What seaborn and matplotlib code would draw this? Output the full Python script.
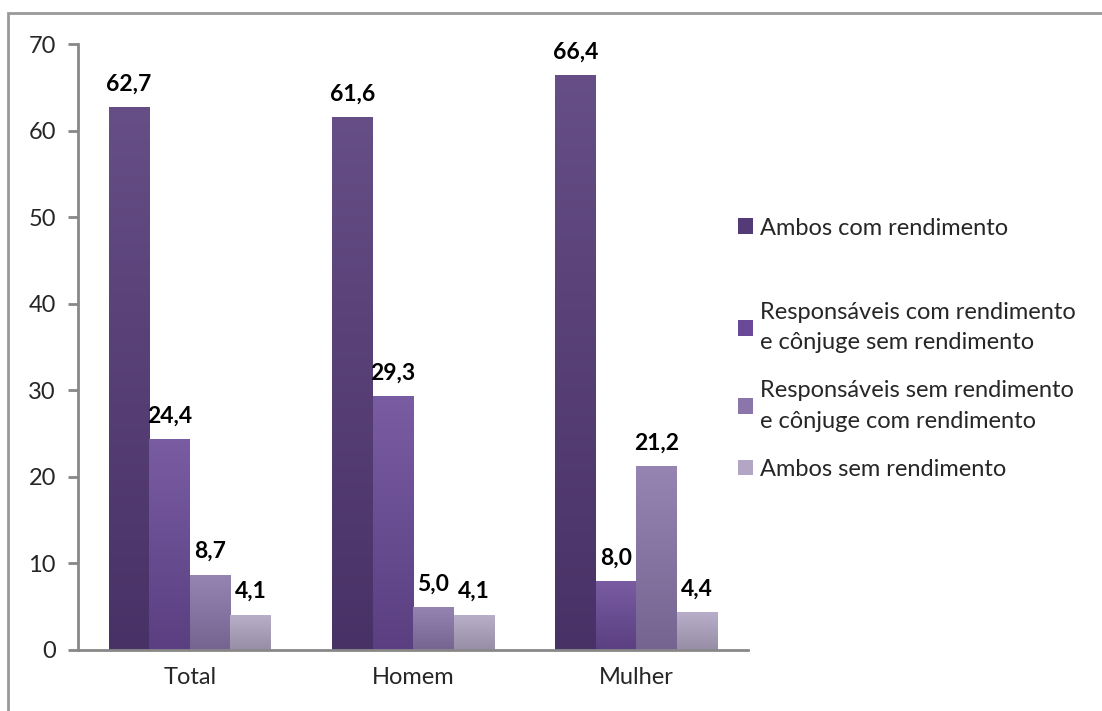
import numpy as np
import pandas as pd
import matplotlib.pyplot as plt
import matplotlib.colors as mcolors
from matplotlib.patches import Rectangle
import seaborn as sns

grupos = ["Total", "Homem", "Mulher"]
series = [
    "Ambos com rendimento",
    "Responsáveis com rendimento\ne cônjuge sem rendimento",
    "Responsáveis sem rendimento\ne cônjuge com rendimento",
    "Ambos sem rendimento",
]
ambos_com = [62.7, 61.6, 66.4]
resp_com = [24.4, 29.3, 8.0]
resp_sem = [8.7, 5.0, 21.2]
ambos_sem = [4.1, 4.1, 4.4]

cores = ["#553a78", "#6a4a98", "#8a76aa", "#b2a6c4"]

df = pd.DataFrame({
    "grupo": grupos * 4,
    "serie": [s for s in series for _ in grupos],
    "valor": ambos_com + resp_com + resp_sem + ambos_sem,
})

sns.set_style("white")
plt.rcParams["font.family"] = ["Lato", "DejaVu Sans"]

fig = plt.figure(figsize=(11.02, 7.11), dpi=100)
ax = fig.add_axes([0.0708, 0.0858, 0.6080, 0.8523])

sns.barplot(data=df, x="grupo", y="valor", hue="serie", hue_order=series,
            order=grupos, palette=cores, width=0.725, saturation=1,
            edgecolor="none", linewidth=0, ax=ax)

# leve degradê vertical em cada barra (mais claro em cima)
for cont, cor in zip(ax.containers, cores):
    base = np.array(mcolors.to_rgb(cor))
    topo = base + (1 - base) * 0.10
    fundo = base * 0.85
    grad = np.linspace(0, 1, 64)[:, None, None]
    img = topo * (1 - grad) + fundo * grad
    for bar in cont:
        x0, y0 = bar.get_x(), bar.get_y()
        w, h = bar.get_width(), bar.get_height()
        im = ax.imshow(img, extent=[x0, x0 + w, y0, y0 + h], origin="upper",
                       aspect="auto", zorder=bar.get_zorder() + 0.1)
        im.set_clip_path(bar)
    ax.bar_label(cont, labels=[f"{v:.1f}".replace(".", ",") for v in cont.datavalues],
                 padding=9, fontsize=16.5, fontweight="bold", color="black")

ax.set_xlim(-0.5, 2.5)
ax.set_ylim(0, 70)
ax.set_yticks(range(0, 71, 10))
ax.set_xlabel("")
ax.set_ylabel("")
ax.set_xticks([-0.5, 0.5, 1.5, 2.5], minor=True)
ax.tick_params(axis="x", which="major", length=0, labelsize=17, pad=12)
ax.tick_params(axis="x", which="minor", length=7, width=2, color="#888888", direction="out")
ax.tick_params(axis="y", length=7, width=2, color="#888888", direction="out",
               labelsize=17, pad=9, left=True)

for lado in ["top", "right"]:
    ax.spines[lado].set_visible(False)
for lado in ["left", "bottom"]:
    ax.spines[lado].set_color("#888888")
    ax.spines[lado].set_linewidth(2)

handles, labels = ax.get_legend_handles_labels()
leg_kw = dict(frameon=False, fontsize=17, handlelength=0.65, handleheight=0.65,
              handletextpad=0.3, labelspacing=1.15, borderpad=0,
              bbox_transform=fig.transFigure)
leg1 = ax.legend(handles[:1], labels[:1], loc="center left",
                 bbox_to_anchor=(0.659, 1 - 228 / 711), **leg_kw)
ax.add_artist(leg1)
leg2 = ax.legend(handles[1:], labels[1:], loc="upper left",
                 bbox_to_anchor=(0.659, 1 - 290 / 711), **leg_kw)
for t in leg2.get_texts():
    t.set_linespacing(1.55)

# moldura do gráfico
fig.patches.append(Rectangle((8 / 1102, -0.1), 1.2, 1.1 - 13 / 711,
                             transform=fig.transFigure, fill=False,
                             edgecolor="#999999", linewidth=2))

fig.savefig("out.png", dpi=100)
